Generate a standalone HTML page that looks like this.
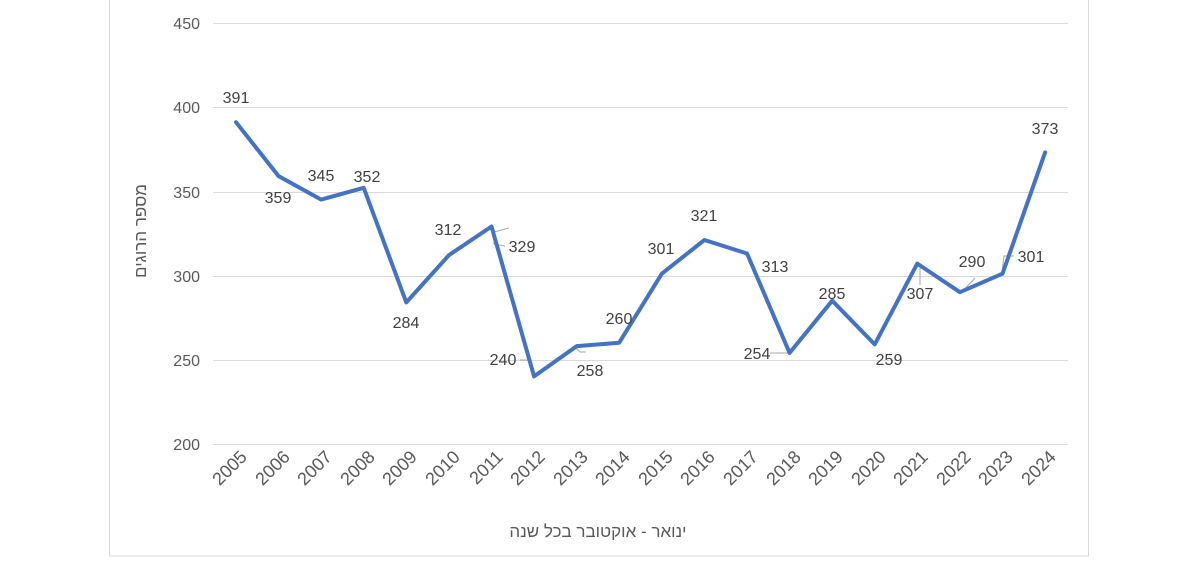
<!DOCTYPE html>
<html><head><meta charset="utf-8"><style>
html,body{margin:0;padding:0;background:#fff;}
svg text{font-family:"Liberation Sans","DejaVu Sans",sans-serif;fill:#404040;}
</style></head><body>
<svg width="1200" height="559" viewBox="0 0 1200 559" xmlns="http://www.w3.org/2000/svg">
<rect x="109.5" y="-1" width="979" height="557" fill="#fff" stroke="#d9d9d9" stroke-width="1"/>
<g stroke="#d9d9d9" stroke-width="1">
<line x1="213" y1="23.5" x2="1068" y2="23.5"/>
<line x1="213" y1="107.5" x2="1068" y2="107.5"/>
<line x1="213" y1="192.5" x2="1068" y2="192.5"/>
<line x1="213" y1="276.5" x2="1068" y2="276.5"/>
<line x1="213" y1="360.5" x2="1068" y2="360.5"/>
<line x1="213" y1="444.5" x2="1068" y2="444.5"/>
</g>
<g font-size="16" text-anchor="end" style="fill:#595959">
<text x="200" y="29" style="fill:#595959">450</text>
<text x="200" y="113" style="fill:#595959">400</text>
<text x="200" y="198" style="fill:#595959">350</text>
<text x="200" y="282" style="fill:#595959">300</text>
<text x="200" y="366" style="fill:#595959">250</text>
<text x="200" y="450" style="fill:#595959">200</text>
</g>
<text transform="translate(146,231) rotate(-90)" font-size="17" text-anchor="middle" style="fill:#595959;font-family:'Liberation Sans','DejaVu Sans',sans-serif">מספר הרוגים</text>
<text x="598" y="537" font-size="17" text-anchor="middle" style="fill:#595959">ינואר - אוקטובר בכל שנה</text>
<g font-size="18" text-anchor="end" style="fill:#595959" id="xt">
<text transform="translate(248,458) rotate(-45)" style="fill:#595959">2005</text>
<text transform="translate(291,458) rotate(-45)" style="fill:#595959">2006</text>
<text transform="translate(333,458) rotate(-45)" style="fill:#595959">2007</text>
<text transform="translate(376,458) rotate(-45)" style="fill:#595959">2008</text>
<text transform="translate(418,458) rotate(-45)" style="fill:#595959">2009</text>
<text transform="translate(461,458) rotate(-45)" style="fill:#595959">2010</text>
<text transform="translate(504,458) rotate(-45)" style="fill:#595959">2011</text>
<text transform="translate(546,458) rotate(-45)" style="fill:#595959">2012</text>
<text transform="translate(589,458) rotate(-45)" style="fill:#595959">2013</text>
<text transform="translate(631,458) rotate(-45)" style="fill:#595959">2014</text>
<text transform="translate(674,458) rotate(-45)" style="fill:#595959">2015</text>
<text transform="translate(716,458) rotate(-45)" style="fill:#595959">2016</text>
<text transform="translate(759,458) rotate(-45)" style="fill:#595959">2017</text>
<text transform="translate(802,458) rotate(-45)" style="fill:#595959">2018</text>
<text transform="translate(844,458) rotate(-45)" style="fill:#595959">2019</text>
<text transform="translate(887,458) rotate(-45)" style="fill:#595959">2020</text>
<text transform="translate(929,458) rotate(-45)" style="fill:#595959">2021</text>
<text transform="translate(972,458) rotate(-45)" style="fill:#595959">2022</text>
<text transform="translate(1014,458) rotate(-45)" style="fill:#595959">2023</text>
<text transform="translate(1057,458) rotate(-45)" style="fill:#595959">2024</text>
</g>
<g stroke="#a6a6a6" stroke-width="1" fill="none">
<polyline points="509,228 494,232 494,244 505,246"/>
<polyline points="520,360 530,360 534,370"/>
<polyline points="576,348 580,352 586,352"/>
<polyline points="770,353 789,353"/>
<polyline points="920,268 920,285"/>
<polyline points="962,292 975,278"/>
<polyline points="1002,272 1004,256 1014,256"/>
</g>
<polyline fill="none" stroke="#4472c4" stroke-width="4" stroke-linejoin="round" stroke-linecap="round"
points="236,122.2 278.6,176.1 321.2,199.6 363.7,187.8 406.3,302.4 448.9,255.2 491.5,226.5 534.1,376.4 576.7,346.1 619.2,342.7 661.8,273.7 704.4,240.0 747,253.5 789.6,352.9 832.2,300.7 874.7,344.4 917.3,263.6 959.9,292.2 1002.5,273.7 1045.1,152.4"/>
<g font-size="16" text-anchor="middle">
<text x="236" y="103">391</text>
<text x="278" y="203">359</text>
<text x="321" y="181">345</text>
<text x="367" y="182">352</text>
<text x="406" y="328">284</text>
<text x="448" y="235">312</text>
<text x="522" y="252">329</text>
<text x="503" y="365">240</text>
<text x="590" y="376">258</text>
<text x="619" y="324">260</text>
<text x="661" y="254">301</text>
<text x="704" y="221">321</text>
<text x="775" y="272">313</text>
<text x="757" y="359">254</text>
<text x="832" y="299">285</text>
<text x="889" y="365">259</text>
<text x="920" y="299">307</text>
<text x="972" y="267">290</text>
<text x="1031" y="262">301</text>
<text x="1045" y="134">373</text>
</g>
</svg>
</body></html>
